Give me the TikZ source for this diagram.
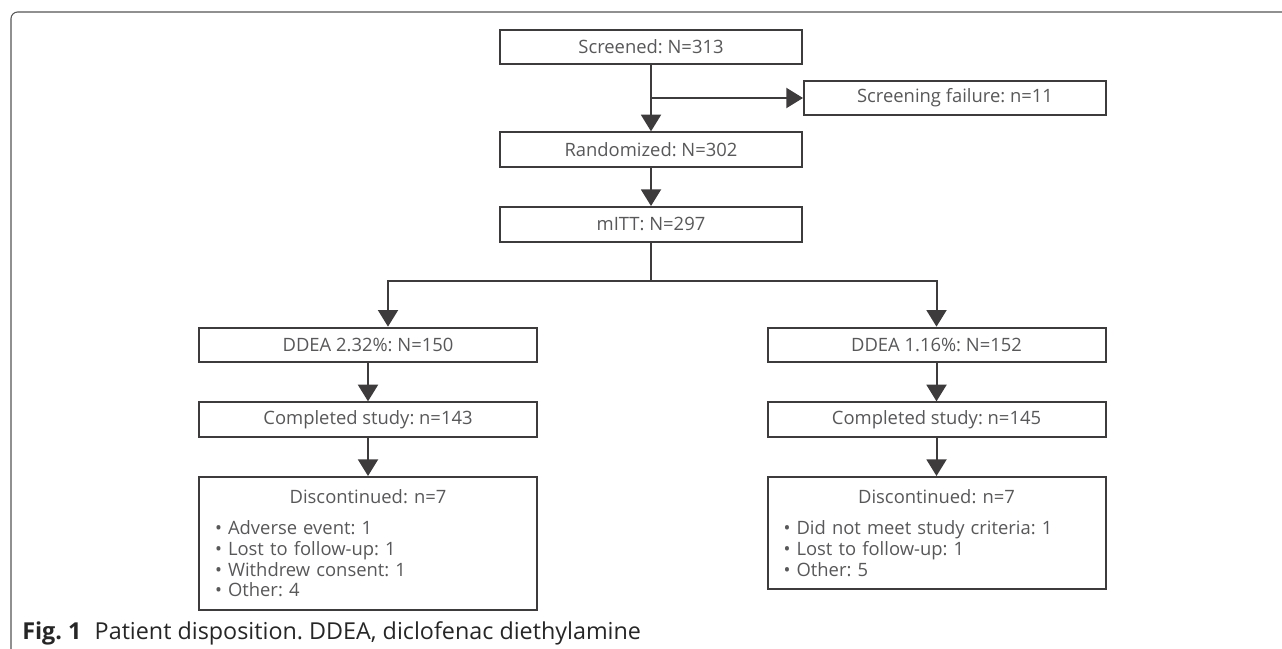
\documentclass[tikz,border=0pt]{standalone}
\usepackage{fontspec}
\setmainfont{Open Sans}
\frenchspacing
\usepackage{tikz}
\usetikzlibrary{positioning, arrows.meta, calc}
\definecolor{boxline}{HTML}{3D3B3C}
\definecolor{boxtext}{HTML}{58585A}
\definecolor{framegray}{HTML}{555555}
\tikzset{>={Triangle[width=15pt, length=12.5pt]}, node distance=28.5pt,
	stepbox/.style={draw=boxline, line width=1.5pt, fill=white, text=boxtext, minimum height=26pt, minimum width=226.5pt, inner sep=0pt, font=\fontsize{13.8}{15.5}\selectfont},
	wide/.style={minimum width=253.5pt},
	listbox/.style={stepbox, wide, text width=229.5pt, inner xsep=12pt, inner ysep=9.5pt, align=left},
	flow/.style={->, draw=boxline, line width=1.5pt}}

\begin{document}
\begin{tikzpicture}[x=0.75pt, y=-0.75pt]
	\useasboundingbox (0,0) rectangle (1282,649);
	\draw[framegray, line width=0.8pt, rounded corners=5pt] (11,649) -- (11,12) -- (1282,12);

	\node[stepbox] (Screened) at (651,47) {Screened: N=313};
	\node[stepbox] (Failure) at (955,98) {Screening failure: n=11};
	\node[stepbox, below=49.5pt of Screened] (Randomized) {Randomized: N=302};
	\node[stepbox, below=of Randomized] (mITT) {mITT: N=297};
	\node[stepbox, wide] (Low) at (368,345) {DDEA 2.32\%: N=150};
	\node[stepbox, wide] (High) at (936.5,345) {DDEA 1.16\%: N=152};
	\node[stepbox, wide, below=of Low] (Low Done) {Completed study: n=143};
	\node[stepbox, wide, below=of High] (High Done) {Completed study: n=145};
	\node[listbox, below=of Low Done] (Low Out) {\centering Discontinued: n=7\par\vspace{8pt}\raggedright
		• Adverse event: 1\\
		• Lost to follow-up: 1\\
		• Withdrew consent: 1\\
		• Other: 4};
	\node[listbox, below=of High Done] (High Out) {\centering Discontinued: n=7\par\vspace{8pt}\raggedright
		• Did not meet study criteria: 1\\
		• Lost to follow-up: 1\\
		• Other: 5};
	\node[anchor=west, inner sep=0pt, text=black!85, font=\fontsize{17.5}{19}\selectfont] (Caption) at (22,633) {\textbf{Fig. 1}\hspace{10pt}Patient disposition. DDEA, diclofenac diethylamine};

	\coordinate (Exit) at (Screened.south |- Failure.west);
	\coordinate (Fork) at ($(mITT.south)+(0,-29pt)$);
	\draw[flow] (Screened) -- (Randomized);
	\draw[flow] (Exit) -- (Failure);
	\draw[flow] (Randomized) -- (mITT);
	\draw[flow] (mITT) -- (Fork) -| ([xshift=15pt]Low.north);
	\draw[flow] (Fork) -| (High.north);
	\draw[flow] (Low) -- (Low Done);
	\draw[flow] (High) -- (High Done);
	\draw[flow] (Low Done) -- (Low Out);
	\draw[flow] (High Done) -- (High Out);
\end{tikzpicture}
\end{document}
